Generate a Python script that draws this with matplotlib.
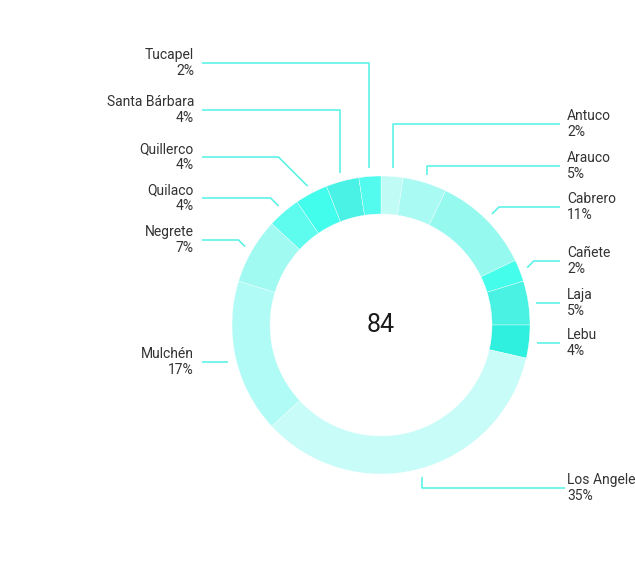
import matplotlib
matplotlib.use("Agg")
import matplotlib.pyplot as plt
import numpy as np

categories = ["Antuco", "Arauco", "Cabrero", "Cañete", "Laja", "Lebu", "Los Angele",
              "Mulchén", "Negrete", "Quilaco", "Quillerco", "Santa Bárbara", "Tucapel"]
values = [2, 4, 9, 2, 4, 3, 29, 14, 6, 3, 3, 3, 2]
pct_labels = ["2%", "5%", "11%", "2%", "5%", "4%", "35%", "17%", "7%", "4%", "4%", "4%", "2%"]
total_label = "84"

colors = ["#c0fbf5", "#a9faf2", "#96f9ef", "#44fdea", "#4af2e4", "#2ff0df", "#c8fcf8",
          "#b0fbf5", "#a0faf1", "#5dfcee", "#43fdec", "#49f2e4", "#52fbee"]

# layout (pixel rows from top) and leader style per label
label_y = [124, 166, 207, 261, 303, 343, 488, 362, 240, 198, 157, 110, 63]
modes = ["vert", "vert", "diag", "diag", "horiz", "horiz", "vert",
         "horiz", "diag", "diag", "diag", "vert", "vert"]

W, H = 635, 577
fig = plt.figure(figsize=(W / 100, H / 100), dpi=100)
ax = fig.add_axes([0, 0, 1, 1])

cx, cy = 381, H - 325
R, width = 149, 38
ax.pie(values, colors=colors, startangle=90, counterclock=False, radius=R,
       center=(cx, cy), wedgeprops=dict(width=width, edgecolor="white", linewidth=0.25))
ax.set_xlim(0, W)
ax.set_ylim(0, H)
ax.set_aspect("equal")
ax.axis("off")

ax.text(cx, cy, total_label, ha="center", va="center", fontsize=18,
        family="Roboto", color="#1a1a1a")

line_col = "#5ef2e6"
Rl = 157
cum = np.cumsum(values)
tot = cum[-1]
for i, (name, pct) in enumerate(zip(categories, pct_labels)):
    mid = (cum[i] - values[i] / 2) / tot * 2 * np.pi
    px = cx + Rl * np.sin(mid)
    py = cy + Rl * np.cos(mid)
    ly = H - label_y[i]
    right = np.sin(mid) > 0
    xend = 560 if right else 202
    if name == "Los Angele":
        xend = 565
    pts = [(px, py)]
    if modes[i] == "vert":
        pts.append((px, ly))
    elif modes[i] == "diag":
        d = abs(ly - py)
        pts.append((px + (d if right else -d), ly))
    else:
        pts = [(px, ly)]
    pts.append((xend, ly))
    xs, ys = zip(*pts)
    ax.plot(xs, ys, color=line_col, lw=1.2, solid_capstyle="butt")
    if right:
        ax.text(567, ly, name + "\n" + pct, ha="left", va="center", fontsize=10,
                family="Roboto", color="#333333", linespacing=1.2)
    else:
        ax.text(194, ly, name + "\n" + pct, ha="right", va="center", fontsize=10,
                family="Roboto", color="#333333", linespacing=1.2, multialignment="right")

fig.savefig("out.png", dpi=100, facecolor="white")
